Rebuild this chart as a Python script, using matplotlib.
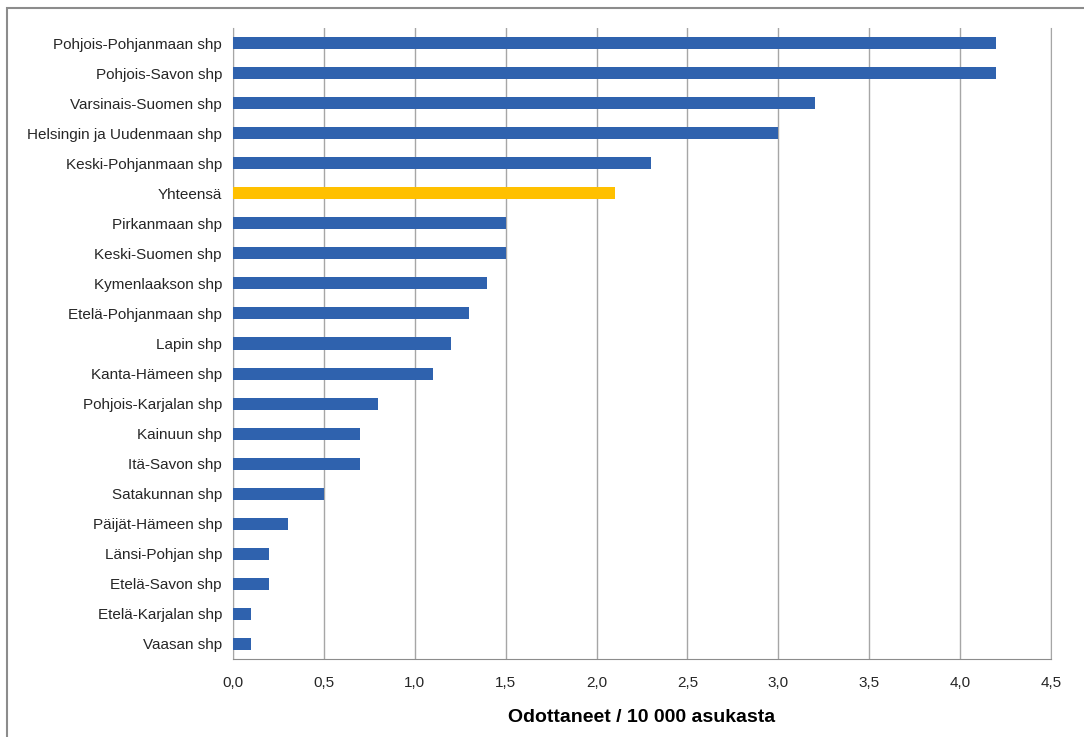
import matplotlib.pyplot as plt
from matplotlib.patches import Rectangle

regions = ["Pohjois-Pohjanmaan shp", "Pohjois-Savon shp", "Varsinais-Suomen shp",
           "Helsingin ja Uudenmaan shp", "Keski-Pohjanmaan shp", "Yhteensä",
           "Pirkanmaan shp", "Keski-Suomen shp", "Kymenlaakson shp",
           "Etelä-Pohjanmaan shp", "Lapin shp", "Kanta-Hämeen shp",
           "Pohjois-Karjalan shp", "Kainuun shp", "Itä-Savon shp",
           "Satakunnan shp", "Päijät-Hämeen shp", "Länsi-Pohjan shp",
           "Etelä-Savon shp", "Etelä-Karjalan shp", "Vaasan shp"]
values = [4.2, 4.2, 3.2, 3.0, 2.3, 2.1, 1.5, 1.5, 1.4, 1.3, 1.2, 1.1,
          0.8, 0.7, 0.7, 0.5, 0.3, 0.2, 0.2, 0.1, 0.1]
xticks = [0.0, 0.5, 1.0, 1.5, 2.0, 2.5, 3.0, 3.5, 4.0, 4.5]

plt.rcParams['font.family'] = ['Liberation Sans', 'DejaVu Sans']

W, H = 1084, 737
fig = plt.figure(figsize=(W / 100, H / 100), dpi=100)
ax = fig.add_axes([233 / W, 1 - 659 / H, (1051 - 233) / W, (659 - 28) / H])

# outer chart frame (extends past the right and bottom edges)
fig.patches.append(Rectangle((7 / W, -0.1), 1.2, 1 - 8 / H + 0.1, transform=fig.transFigure,
                             fill=False, edgecolor='#8c8c8c', linewidth=1.5))

colors = ['#FFC000' if r == "Yhteensä" else '#2F62AE' for r in regions]
ypos = list(range(len(regions)))
ax.barh(ypos, values, height=0.4, color=colors, zorder=3)

ax.set_ylim(len(regions) - 0.5, -0.5)
ax.set_xlim(0, 4.5)
ax.set_yticks(ypos)
ax.set_yticklabels(regions, fontsize=11, color='#262626')
ax.set_xticks(xticks)
ax.set_xticklabels([f"{t:.1f}".replace('.', ',') for t in xticks], fontsize=11, color='#262626')
ax.tick_params(axis='y', length=0, pad=8)
ax.tick_params(axis='x', length=0, pad=12)

ax.grid(axis='x', color='#a6a6a6', linewidth=1, zorder=0)
ax.spines['top'].set_visible(False)
ax.spines['right'].set_color('#a6a6a6')
ax.spines['left'].set_color('#a6a6a6')
ax.spines['bottom'].set_color('#8c8c8c')

ax.set_xlabel("Odottaneet / 10 000 asukasta", fontsize=14, fontweight='bold', labelpad=14)

fig.savefig("out.png", dpi=100)
